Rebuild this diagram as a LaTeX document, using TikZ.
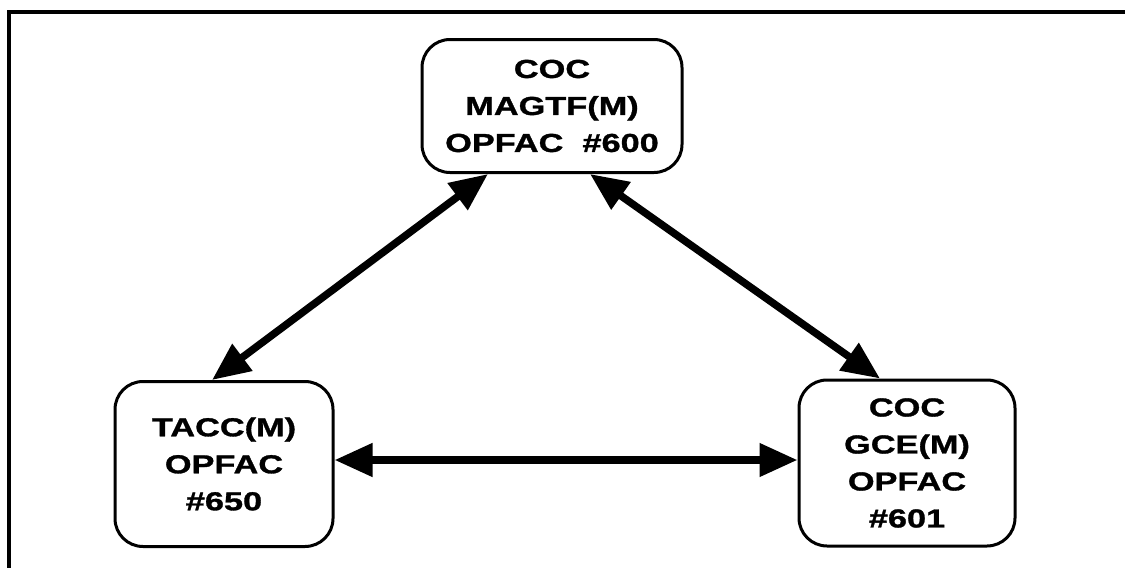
\documentclass[tikz,border=0pt]{standalone}
\usepackage{fontspec}
\newfontfamily\lab{Liberation Sans}[FakeStretch=1.32,FakeBold=1.2]
\usetikzlibrary{arrows.meta}
\tikzset{
  box/.style={draw, line width=3pt, rounded corners=28pt, align=center,
    inner sep=0pt, font=\lab\bfseries\fontsize{26}{37}\selectfont},
  arr/.style={line width=7.5pt, {Triangle[length=38pt,width=32pt]}-{Triangle[length=38pt,width=32pt]}},
  frame/.style={line width=4pt}
}
\begin{document}
\begin{tikzpicture}[x=1pt,y=-1pt]
\useasboundingbox (0,0) rectangle (1125,568);
\draw[frame] (1125,12) -- (9,12) -- (9,568);
\node[box, minimum width=260pt, minimum height=133pt] (top) at (552,106) {COC\\MAGTF(M)\\OPFAC\ \ \#600};
\node[box, minimum width=218pt, minimum height=165pt] (left) at (224,464) {TACC(M)\\OPFAC\\\#650};
\node[box, minimum width=216pt, minimum height=166pt] (right) at (907,463) {COC\\GCE(M)\\OPFAC\\\#601};
\draw[arr] ([xshift=-64pt]top.south) -- ([xshift=-12pt]left.north);
\draw[arr] ([xshift=38pt]top.south) -- ([xshift=-27pt]right.north);
\draw[arr] ([yshift=4pt]left.east) -- ([yshift=4pt]left.east -| right.west);
\end{tikzpicture}
\end{document}
